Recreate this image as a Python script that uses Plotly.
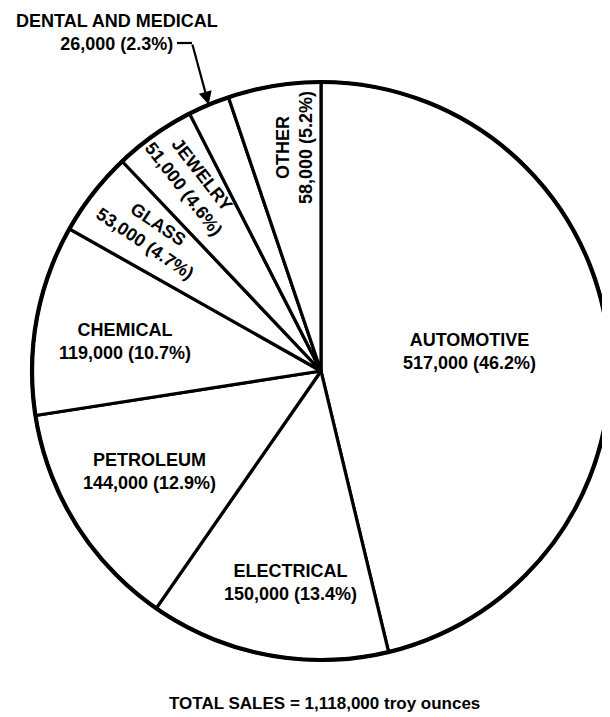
import math
import plotly.graph_objects as go

# ---- data ----
categories = ["AUTOMOTIVE", "ELECTRICAL", "PETROLEUM", "CHEMICAL",
              "GLASS", "JEWELRY", "DENTAL AND MEDICAL", "OTHER"]
sales_oz = [517000, 150000, 144000, 119000, 53000, 51000, 26000, 58000]
share_pct = ["46.2", "13.4", "12.9", "10.7", "4.7", "4.6", "2.3", "5.2"]
total_label = "TOTAL SALES"
unit = "troy ounces"

# ---- layout geometry ----
# The page body has an 8px margin, so the figure is sized to fit the
# 610x717 window exactly; all positions below are window pixels.
OFF = 8
WIN_W, WIN_H = 610, 717
FW, FH = WIN_W - OFF, WIN_H - OFF
CX, CY, R = 321, 371, 289
FONT = "Liberation Sans Narrow, Liberation Sans, Arial, sans-serif"


def px(x):
    return (x - OFF) / FW


def py(y):
    return 1 - (y - OFF) / FH


fig = go.Figure(go.Pie(
    labels=categories,
    values=sales_oz,
    sort=False,
    direction="clockwise",
    rotation=0,
    marker=dict(colors=["white"] * len(categories),
                line=dict(color="black", width=3.2)),
    textinfo="none",
    hoverinfo="skip",
    showlegend=False,
    domain=dict(x=[px(CX - R), min(1, px(CX + R))],
                y=[py(CY + R), py(CY - R)]),
))

# label placement: centre (window px) and text angle
label_place = {
    "AUTOMOTIVE": (469, 351, 0),
    "ELECTRICAL": (290, 582, 0),
    "PETROLEUM": (149, 471, 0),
    "CHEMICAL": (125, 342, 0),
    "GLASS": (151, 234, 34),
    "JEWELRY": (193, 181, 52),
    "OTHER": (294, 148, -90),
}

annotations = []
for name, val, pct in zip(categories, sales_oz, share_pct):
    text = f"{name}<br>{val:,} ({pct}%)"
    if name in label_place:
        x, y, ang = label_place[name]
        annotations.append(dict(
            x=px(x), y=py(y), xref="paper", yref="paper", text=text,
            showarrow=False, textangle=ang, align="center",
            xanchor="center", yanchor="middle",
            font=dict(family=FONT, size=18, color="black", weight="bold"),
        ))
    else:
        # callout label for the small slice
        annotations.append(dict(
            x=px(117), y=py(33), xref="paper", yref="paper", text=text,
            showarrow=False, align="center", xanchor="center", yanchor="middle",
            font=dict(family=FONT, size=18, color="black", weight="bold"),
        ))

# arrow to the small slice: tip on the rim at the slice mid-angle
total = sum(sales_oz)
cum = 0
for name, val in zip(categories, sales_oz):
    if name == "DENTAL AND MEDICAL":
        mid = (cum + val / 2) / total * 2 * math.pi
        tipx = CX + R * math.sin(mid)
        tipy = CY - R * math.cos(mid)
    cum += val

elbow = (192, 43)
annotations.append(dict(
    x=px(tipx), y=py(tipy), xref="paper", yref="paper", text="",
    showarrow=True, axref="pixel", ayref="pixel",
    ax=elbow[0] - tipx, ay=elbow[1] - tipy,
    arrowhead=2, arrowsize=1.2, arrowwidth=2.2, arrowcolor="black",
))

annotations.append(dict(
    x=px(325), y=py(703), xref="paper", yref="paper",
    text=f"{total_label} = {total:,} {unit}",
    showarrow=False, xanchor="center", yanchor="middle",
    font=dict(family=FONT, size=17, color="black", weight="bold"),
))

fig.update_layout(
    width=FW, height=FH,
    margin=dict(l=0, r=0, t=0, b=0),
    paper_bgcolor="white", plot_bgcolor="white",
    annotations=annotations,
    shapes=[
        dict(type="line", xref="paper", yref="paper",
             x0=px(177), y0=py(elbow[1]), x1=px(elbow[0]), y1=py(elbow[1]),
             line=dict(color="black", width=2.2)),
        dict(type="circle", xref="paper", yref="paper", layer="above",
             x0=px(CX - R), x1=min(1, px(CX + R)), y0=py(CY + R), y1=py(CY - R),
             line=dict(color="black", width=4.2)),
    ],
)

fig.write_html("out.html")
